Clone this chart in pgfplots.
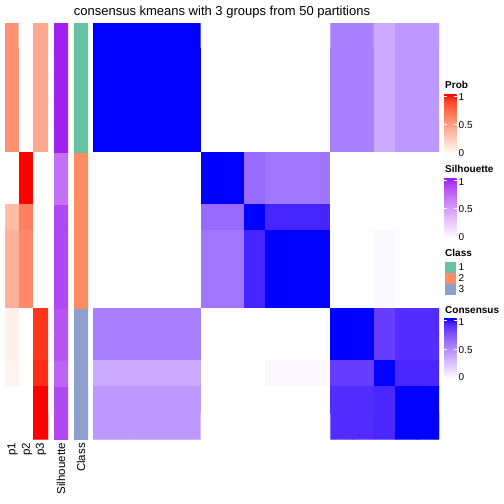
\documentclass[border=0pt]{standalone}
\usepackage{pgfplots}
\pgfplotsset{compat=1.18}
\usepackage{fontspec}
\setmainfont{Liberation Sans}

\definecolor{cb1}{RGB}{238,226,255}
\definecolor{cb2}{RGB}{220,196,255}
\definecolor{cb3}{RGB}{200,168,255}
\definecolor{cb4}{RGB}{179,139,255}
\definecolor{cb5}{RGB}{155,111,255}
\definecolor{cb6}{RGB}{126,81,255}
\definecolor{cb7}{RGB}{89,50,255}
\definecolor{cb75}{RGB}{62,31,255}
\definecolor{cb8}{RGB}{0,0,255}
\definecolor{rd1}{RGB}{255,231,222}
\definecolor{rd2}{RGB}{255,207,191}
\definecolor{rd3}{RGB}{255,183,160}
\definecolor{rd4}{RGB}{255,158,129}
\definecolor{rd5}{RGB}{255,132,100}
\definecolor{rd6}{RGB}{255,104,70}
\definecolor{rd7}{RGB}{255,70,40}
\definecolor{rd75}{RGB}{255,47,23}
\definecolor{rd8}{RGB}{255,0,0}
\definecolor{pu1}{RGB}{247,230,254}
\definecolor{pu2}{RGB}{237,205,253}
\definecolor{pu3}{RGB}{226,180,252}
\definecolor{pu4}{RGB}{215,155,250}
\definecolor{pu5}{RGB}{203,129,248}
\definecolor{pu6}{RGB}{190,102,245}
\definecolor{pu7}{RGB}{176,72,243}
\definecolor{pu8}{RGB}{160,32,240}
\definecolor{cl1}{RGB}{102,194,165}
\definecolor{cl2}{RGB}{252,141,98}
\definecolor{cl3}{RGB}{141,160,203}

\pgfdeclareverticalshading{consbar}{100bp}{color(0bp)=(white); color(25bp)=(white); color(31.25bp)=(cb1); color(37.5bp)=(cb2); color(43.75bp)=(cb3); color(50bp)=(cb4); color(56.25bp)=(cb5); color(62.5bp)=(cb6); color(68.75bp)=(cb7); color(71.875bp)=(cb75); color(75bp)=(cb8); color(100bp)=(cb8)}
\pgfdeclareverticalshading{probbar}{100bp}{color(0bp)=(white); color(25bp)=(white); color(31.25bp)=(rd1); color(37.5bp)=(rd2); color(43.75bp)=(rd3); color(50bp)=(rd4); color(56.25bp)=(rd5); color(62.5bp)=(rd6); color(68.75bp)=(rd7); color(71.875bp)=(rd75); color(75bp)=(rd8); color(100bp)=(rd8)}
\pgfdeclareverticalshading{silbar}{100bp}{color(0bp)=(white); color(25bp)=(white); color(31.25bp)=(pu1); color(37.5bp)=(pu2); color(43.75bp)=(pu3); color(50bp)=(pu4); color(56.25bp)=(pu5); color(62.5bp)=(pu6); color(68.75bp)=(pu7); color(75bp)=(pu8); color(100bp)=(pu8)}

\pgfplotsset{
  colormap={consensus}{rgb255(0cm)=(255,255,255) rgb255(1cm)=(238,226,255) rgb255(2cm)=(220,196,255) rgb255(3cm)=(200,168,255) rgb255(4cm)=(179,139,255) rgb255(5cm)=(155,111,255) rgb255(6cm)=(126,81,255) rgb255(7cm)=(89,50,255) rgb255(7.5cm)=(62,31,255) rgb255(8cm)=(0,0,255)},
  colormap={probred}{rgb255(0cm)=(255,255,255) rgb255(1cm)=(255,231,222) rgb255(2cm)=(255,207,191) rgb255(3cm)=(255,183,160) rgb255(4cm)=(255,158,129) rgb255(5cm)=(255,132,100) rgb255(6cm)=(255,104,70) rgb255(7cm)=(255,70,40) rgb255(7.5cm)=(255,47,23) rgb255(8cm)=(255,0,0)},
  colormap={silpurple}{rgb255(0cm)=(255,255,255) rgb255(1cm)=(247,230,254) rgb255(2cm)=(237,205,253) rgb255(3cm)=(226,180,252) rgb255(4cm)=(215,155,250) rgb255(5cm)=(203,129,248) rgb255(6cm)=(190,102,245) rgb255(7cm)=(176,72,243) rgb255(8cm)=(160,32,240)},
  colormap={classcol}{rgb255(0cm)=(102,194,165) rgb255(1cm)=(252,141,98) rgb255(2cm)=(141,160,203)},
  hm/.style={scale only axis, hide axis, y dir=reverse, anchor=north west,
    enlargelimits=false, point meta min=0, point meta max=1, height=416bp},
  cells/.style={matrix plot, shader=faceted, faceted color=mapped color, draw=mapped color, line width=1.2bp, point meta=explicit},
}

\newcommand{\legbar}[3]{%
  \node[anchor=base west, inner sep=0pt, font=\bfseries\fontsize{10bp}{12bp}\selectfont] at (445,#1) {#2};
  \shade[shading=#3] (444,#1+5.5) rectangle (456.5,#1+66);
  \foreach \t in {7.5,36}{
    \draw[white, line width=0.7bp] (444,#1+\t) -- ++(2.5,0);
    \draw[white, line width=0.7bp] (456.5,#1+\t) -- ++(-2.5,0);
  }
  \node[anchor=west, inner sep=0pt, font=\fontsize{10bp}{12bp}\selectfont] at (458.5,#1+9) {1};
  \node[anchor=west, inner sep=0pt, font=\fontsize{10bp}{12bp}\selectfont] at (458.5,#1+36.7) {0.5};
  \node[anchor=west, inner sep=0pt, font=\fontsize{10bp}{12bp}\selectfont] at (458.5,#1+64.4) {0};
}

\begin{document}
\begin{tikzpicture}
\useasboundingbox (0,0) rectangle (504bp,-504bp);
\fill[white] (0,0) rectangle (504bp,-504bp);

% consensus heatmap
\begin{axis}[hm, at={(93bp,-23bp)}, width=346bp,
  xmin=-0.5, xmax=15.5, ymin=-0.5, ymax=15.5, colormap name=consensus]
\addplot[cells, mesh/cols=16] coordinates {
(0,0) [1] (1,0) [1] (2,0) [1] (3,0) [1] (4,0) [1] (5,0) [0] (6,0) [0] (7,0) [0] (8,0) [0] (9,0) [0] (10,0) [0] (11,0) [0.55] (12,0) [0.55] (13,0) [0.36] (14,0) [0.44] (15,0) [0.44]
(0,1) [1] (1,1) [1] (2,1) [1] (3,1) [1] (4,1) [1] (5,1) [0] (6,1) [0] (7,1) [0] (8,1) [0] (9,1) [0] (10,1) [0] (11,1) [0.55] (12,1) [0.55] (13,1) [0.36] (14,1) [0.44] (15,1) [0.44]
(0,2) [1] (1,2) [1] (2,2) [1] (3,2) [1] (4,2) [1] (5,2) [0] (6,2) [0] (7,2) [0] (8,2) [0] (9,2) [0] (10,2) [0] (11,2) [0.55] (12,2) [0.55] (13,2) [0.36] (14,2) [0.44] (15,2) [0.44]
(0,3) [1] (1,3) [1] (2,3) [1] (3,3) [1] (4,3) [1] (5,3) [0] (6,3) [0] (7,3) [0] (8,3) [0] (9,3) [0] (10,3) [0] (11,3) [0.55] (12,3) [0.55] (13,3) [0.36] (14,3) [0.44] (15,3) [0.44]
(0,4) [1] (1,4) [1] (2,4) [1] (3,4) [1] (4,4) [1] (5,4) [0] (6,4) [0] (7,4) [0] (8,4) [0] (9,4) [0] (10,4) [0] (11,4) [0.55] (12,4) [0.55] (13,4) [0.36] (14,4) [0.44] (15,4) [0.44]
(0,5) [0] (1,5) [0] (2,5) [0] (3,5) [0] (4,5) [0] (5,5) [1] (6,5) [1] (7,5) [0.64] (8,5) [0.6] (9,5) [0.6] (10,5) [0.6] (11,5) [0] (12,5) [0] (13,5) [0] (14,5) [0] (15,5) [0]
(0,6) [0] (1,6) [0] (2,6) [0] (3,6) [0] (4,6) [0] (5,6) [1] (6,6) [1] (7,6) [0.64] (8,6) [0.6] (9,6) [0.6] (10,6) [0.6] (11,6) [0] (12,6) [0] (13,6) [0] (14,6) [0] (15,6) [0]
(0,7) [0] (1,7) [0] (2,7) [0] (3,7) [0] (4,7) [0] (5,7) [0.64] (6,7) [0.64] (7,7) [1] (8,7) [0.92] (9,7) [0.92] (10,7) [0.92] (11,7) [0] (12,7) [0] (13,7) [0] (14,7) [0] (15,7) [0]
(0,8) [0] (1,8) [0] (2,8) [0] (3,8) [0] (4,8) [0] (5,8) [0.6] (6,8) [0.6] (7,8) [0.92] (8,8) [1] (9,8) [1] (10,8) [1] (11,8) [0] (12,8) [0] (13,8) [0.03] (14,8) [0] (15,8) [0]
(0,9) [0] (1,9) [0] (2,9) [0] (3,9) [0] (4,9) [0] (5,9) [0.6] (6,9) [0.6] (7,9) [0.92] (8,9) [1] (9,9) [1] (10,9) [1] (11,9) [0] (12,9) [0] (13,9) [0.03] (14,9) [0] (15,9) [0]
(0,10) [0] (1,10) [0] (2,10) [0] (3,10) [0] (4,10) [0] (5,10) [0.6] (6,10) [0.6] (7,10) [0.92] (8,10) [1] (9,10) [1] (10,10) [1] (11,10) [0] (12,10) [0] (13,10) [0.03] (14,10) [0] (15,10) [0]
(0,11) [0.55] (1,11) [0.55] (2,11) [0.55] (3,11) [0.55] (4,11) [0.55] (5,11) [0] (6,11) [0] (7,11) [0] (8,11) [0] (9,11) [0] (10,11) [0] (11,11) [1] (12,11) [1] (13,11) [0.83] (14,11) [0.89] (15,11) [0.89]
(0,12) [0.55] (1,12) [0.55] (2,12) [0.55] (3,12) [0.55] (4,12) [0.55] (5,12) [0] (6,12) [0] (7,12) [0] (8,12) [0] (9,12) [0] (10,12) [0] (11,12) [1] (12,12) [1] (13,12) [0.83] (14,12) [0.89] (15,12) [0.89]
(0,13) [0.36] (1,13) [0.36] (2,13) [0.36] (3,13) [0.36] (4,13) [0.36] (5,13) [0] (6,13) [0] (7,13) [0] (8,13) [0.03] (9,13) [0.03] (10,13) [0.03] (11,13) [0.83] (12,13) [0.83] (13,13) [1] (14,13) [0.91] (15,13) [0.91]
(0,14) [0.44] (1,14) [0.44] (2,14) [0.44] (3,14) [0.44] (4,14) [0.44] (5,14) [0] (6,14) [0] (7,14) [0] (8,14) [0] (9,14) [0] (10,14) [0] (11,14) [0.89] (12,14) [0.89] (13,14) [0.91] (14,14) [1] (15,14) [1]
(0,15) [0.44] (1,15) [0.44] (2,15) [0.44] (3,15) [0.44] (4,15) [0.44] (5,15) [0] (6,15) [0] (7,15) [0] (8,15) [0] (9,15) [0] (10,15) [0] (11,15) [0.89] (12,15) [0.89] (13,15) [0.91] (14,15) [1] (15,15) [1]
};
\end{axis}

% membership probabilities p1 p2 p3
\begin{axis}[hm, at={(5bp,-23bp)}, width=43bp,
  xmin=-0.5, xmax=2.5, ymin=-0.5, ymax=15.5, colormap name=probred]
\addplot[cells, mesh/cols=3] coordinates {
(0,0) [0.56] (1,0) [0] (2,0) [0.44]
(0,1) [0.56] (1,1) [0] (2,1) [0.44]
(0,2) [0.56] (1,2) [0] (2,2) [0.44]
(0,3) [0.56] (1,3) [0] (2,3) [0.44]
(0,4) [0.56] (1,4) [0] (2,4) [0.44]
(0,5) [0] (1,5) [1] (2,5) [0]
(0,6) [0] (1,6) [1] (2,6) [0]
(0,7) [0.35] (1,7) [0.65] (2,7) [0]
(0,8) [0.40] (1,8) [0.60] (2,8) [0]
(0,9) [0.40] (1,9) [0.60] (2,9) [0]
(0,10) [0.40] (1,10) [0.60] (2,10) [0]
(0,11) [0.08] (1,11) [0] (2,11) [0.92]
(0,12) [0.08] (1,12) [0] (2,12) [0.92]
(0,13) [0.06] (1,13) [0] (2,13) [0.94]
(0,14) [0] (1,14) [0] (2,14) [1]
(0,15) [0] (1,15) [0] (2,15) [1]
};
\end{axis}

% silhouette
\begin{axis}[hm, at={(54bp,-23bp)}, width=14bp,
  xmin=0, xmax=1, ymin=0, ymax=16, colormap name=silpurple]
\addplot[patch, patch type=rectangle, shader=flat, point meta=explicit] table[meta=c] {
x y c
0 0 1
1 0 1
1 5 1
0 5 1
0 5 0.70
1 5 0.70
1 7 0.70
0 7 0.70
0 7 0.87
1 7 0.87
1 8 0.87
0 8 0.87
0 8 0.87
1 8 0.87
1 11 0.87
0 11 0.87
0 11 0.82
1 11 0.82
1 13 0.82
0 13 0.82
0 13 0.76
1 13 0.76
1 14 0.76
0 14 0.76
0 14 0.87
1 14 0.87
1 16 0.87
0 16 0.87
};
\end{axis}

% class
\begin{axis}[hm, at={(74bp,-23bp)}, width=14bp,
  xmin=0, xmax=1, ymin=0, ymax=16, colormap name=classcol,
  point meta min=1, point meta max=3]
\addplot[patch, patch type=rectangle, shader=flat, point meta=explicit] table[meta=c] {
x y c
0 0 1
1 0 1
1 5 1
0 5 1
0 5 2
1 5 2
1 11 2
0 11 2
0 11 3
1 11 3
1 16 3
0 16 3
};
\end{axis}

\begin{scope}[x=1bp, y=-1bp]
  \node[anchor=base, inner sep=0pt, font=\fontsize{13bp}{15bp}\selectfont] at (222,15) {consensus kmeans with 3 groups from 50 partitions};
  \foreach \xx/\lab in {12.5/p1, 27/p2, 41/p3, 61/Silhouette, 81/Class}{
    \node[rotate=90, anchor=east, inner sep=0pt, font=\fontsize{11.5bp}{13bp}\selectfont] at (\xx,443) {\lab};
  }
  \legbar{88.5}{Prob}{probbar}
  \legbar{172.7}{Silhouette}{silbar}
  \node[anchor=base west, inner sep=0pt, font=\bfseries\fontsize{10bp}{12bp}\selectfont] at (445,256) {Class};
  \foreach \k/\c in {0/cl1, 1/cl2, 2/cl3}{
    \fill[\c] (444.5,262+11*\k) rectangle (456,272.5+11*\k);
    \node[anchor=west, inner sep=0pt, font=\fontsize{10bp}{12bp}\selectfont] at (458.5,267.5+11*\k) {\pgfmathparse{int(\k+1)}\pgfmathresult};
  }
  \legbar{313}{Consensus}{consbar}
\end{scope}
\end{tikzpicture}
\end{document}
